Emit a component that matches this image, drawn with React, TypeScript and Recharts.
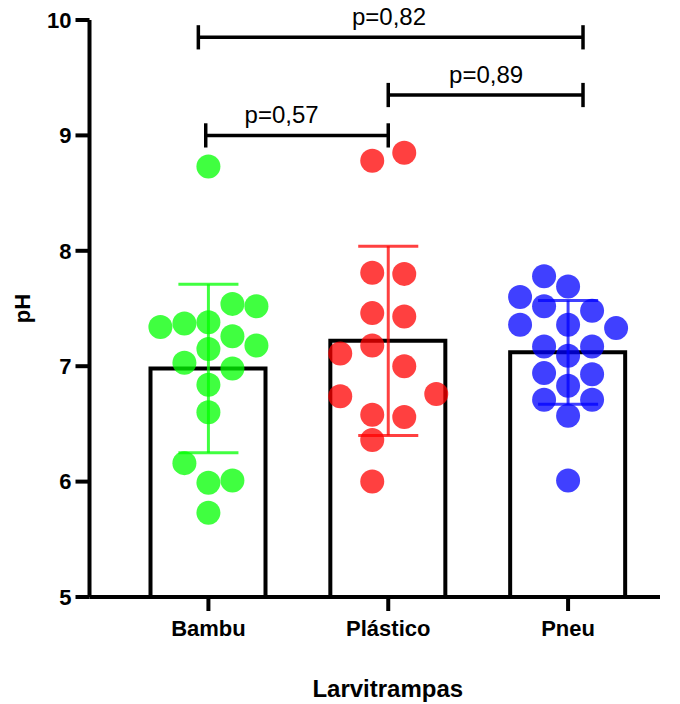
import React from 'react';
import { ComposedChart, Bar, Scatter, XAxis, YAxis, ReferenceLine, Label } from 'recharts';

const FONT = '"Liberation Sans", Arial, Helvetica, sans-serif';

// ---- data ----
const categories = ['Bambu', 'Plástico', 'Pneu'];
const means = [6.98, 7.22, 7.12];
const sds = [0.73, 0.82, 0.45];
const colors = ['#00ff00', '#ff0000', '#0000ff'];
const yTicks = [5, 6, 7, 8, 9, 10];

const bambuValues = [8.73, 7.54, 7.52, 7.34, 7.37, 7.38, 7.26, 7.18, 7.15, 7.03, 6.98, 6.84, 6.6, 6.16, 5.99, 6.01, 5.73];
const bambuLanes = [0, 1, 2, -2, -1, 0, 1, 2, 0, -1, 1, 0, 0, -1, 0, 1, 0];
const plasticoValues = [8.78, 8.85, 7.81, 7.8, 7.46, 7.43, 7.18, 7.11, 7.0, 6.74, 6.76, 6.58, 6.56, 6.36, 6.0];
const plasticoLanes = [-0.5, 0.5, -0.5, 0.5, -0.5, 0.5, -0.5, -1.5, 0.5, -1.5, 1.5, -0.5, 0.5, -0.5, -0.5];
const pneuValues = [7.78, 7.69, 7.6, 7.52, 7.48, 7.36, 7.36, 7.33, 7.17, 7.17, 7.09, 6.94, 6.93, 6.83, 6.71, 6.71, 6.57, 6.01];
const pneuLanes = [-1, 0, -2, -1, 1, -2, 0, 2, -1, 1, 0, -1, 1, 0, -1, 1, 0, 0];

const pLabels = ['p=0,82', 'p=0,89', 'p=0,57'];
const bracketStart = [0.944, 2.0, 0.985];
const bracketEnd = [3.083, 3.083, 2.0];
const bracketY = [9.85, 9.35, 9.0];
const pLabelX = [2.004, 2.544, 1.407];

// ---- layout constants (category units / pH units) ----
const laneWidths = [0.1335, 0.178, 0.1335];
const CAP_HALF = 0.167;
const TICK_HALF = 0.105;

const groupValues = [bambuValues, plasticoValues, pneuValues];
const groupLanes = [bambuLanes, plasticoLanes, pneuLanes];

const barData = categories.map((name, i) => ({ name, mean: means[i] }));
const dotData = groupValues.map((vals, g) =>
  vals.map((v, k) => ({ x: g + 1 + groupLanes[g][k] * laneWidths[g], y: v }))
);
const pLabelData = pLabels.map((label, i) => ({ x: pLabelX[i], y: bracketY[i], label }));

const makeDot = (color: string) => (props: any) => {
  const { cx, cy } = props;
  if (cx == null || cy == null) return <g />;
  return <circle cx={cx} cy={cy} r={12} fill={color} fillOpacity={0.75} />;
};

const pText = (props: any) => {
  const { cx, cy, payload } = props;
  if (cx == null || cy == null) return <g />;
  return (
    <text x={cx} y={cy - 12} textAnchor="middle" fontFamily={FONT} fontSize={24} fill="#000">
      {payload.label}
    </text>
  );
};

const axisStroke = { stroke: '#000', strokeWidth: 4 };
const tickStyle = { fill: '#000', fontSize: 22, fontWeight: 700, fontFamily: FONT };

export default function App() {
  return (
    <div style={{ position: 'absolute', left: 0, top: 0, background: '#fff' }}>
      <ComposedChart
        width={680}
        height={704}
        data={barData}
        margin={{ top: 20, right: 20, bottom: 47, left: 29.5 }}
      >
        <XAxis
          xAxisId="cat"
          dataKey="name"
          height={60}
          padding={{ left: 29, right: 2 }}
          tickSize={14}
          tickMargin={9}
          axisLine={axisStroke}
          tickLine={axisStroke}
          tick={tickStyle}
          interval={0}
        >
          <Label
            value="Larvitrampas"
            position="center"
            dx={13}
            dy={61}
            style={{ fill: '#000', fontSize: 24, fontWeight: 700, fontFamily: FONT }}
          />
        </XAxis>
        <XAxis
          xAxisId="num"
          type="number"
          dataKey="x"
          domain={[0.5, 3.5]}
          padding={{ left: 29, right: 2 }}
          hide
        />
        <YAxis
          type="number"
          domain={[5, 10]}
          ticks={yTicks}
          width={60}
          tickSize={14}
          tickMargin={4}
          axisLine={axisStroke}
          tickLine={axisStroke}
          tick={tickStyle}
          interval={0}
        >
          <Label
            value="pH"
            angle={-90}
            position="center"
            dx={-37}
            style={{ fill: '#000', fontSize: 22, fontWeight: 700, fontFamily: FONT }}
          />
        </YAxis>

        <Bar
          xAxisId="cat"
          dataKey="mean"
          barSize={115}
          fill="#ffffff"
          stroke="#000000"
          strokeWidth={4}
          isAnimationActive={false}
        />

        {dotData.map((d, g) => (
          <Scatter
            key={`dots-${g}`}
            xAxisId="num"
            data={d}
            dataKey="y"
            shape={makeDot(colors[g])}
            isAnimationActive={false}
          />
        ))}

        {categories.map((_, i) => [
          <ReferenceLine
            key={`ev-${i}`}
            xAxisId="num"
            zIndex={700}
            segment={[{ x: i + 1, y: means[i] - sds[i] }, { x: i + 1, y: means[i] + sds[i] }]}
            stroke={colors[i]}
            strokeOpacity={0.75}
            strokeWidth={3}
          />,
          <ReferenceLine
            key={`et-${i}`}
            xAxisId="num"
            zIndex={700}
            segment={[{ x: i + 1 - CAP_HALF, y: means[i] + sds[i] }, { x: i + 1 + CAP_HALF, y: means[i] + sds[i] }]}
            stroke={colors[i]}
            strokeOpacity={0.75}
            strokeWidth={3}
          />,
          <ReferenceLine
            key={`eb-${i}`}
            xAxisId="num"
            zIndex={700}
            segment={[{ x: i + 1 - CAP_HALF, y: means[i] - sds[i] }, { x: i + 1 + CAP_HALF, y: means[i] - sds[i] }]}
            stroke={colors[i]}
            strokeOpacity={0.75}
            strokeWidth={3}
          />,
        ])}

        {pLabels.map((_, i) => [
          <ReferenceLine
            key={`bh-${i}`}
            xAxisId="num"
            segment={[{ x: bracketStart[i], y: bracketY[i] }, { x: bracketEnd[i], y: bracketY[i] }]}
            stroke="#000"
            strokeWidth={3.5}
          />,
          <ReferenceLine
            key={`bl-${i}`}
            xAxisId="num"
            segment={[{ x: bracketStart[i], y: bracketY[i] - TICK_HALF }, { x: bracketStart[i], y: bracketY[i] + TICK_HALF }]}
            stroke="#000"
            strokeWidth={3.5}
          />,
          <ReferenceLine
            key={`br-${i}`}
            xAxisId="num"
            segment={[{ x: bracketEnd[i], y: bracketY[i] - TICK_HALF }, { x: bracketEnd[i], y: bracketY[i] + TICK_HALF }]}
            stroke="#000"
            strokeWidth={3.5}
          />,
        ])}

        <Scatter
          xAxisId="num"
          data={pLabelData}
          dataKey="y"
          shape={pText}
          isAnimationActive={false}
        />
      </ComposedChart>
    </div>
  );
}
